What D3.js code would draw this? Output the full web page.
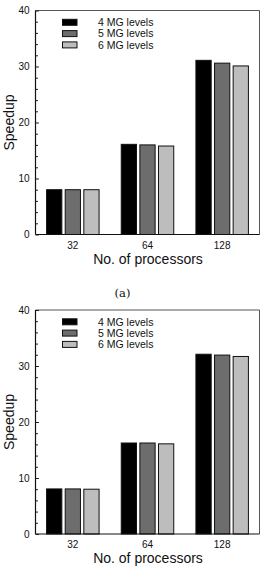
<!DOCTYPE html>
<html>
<head>
<meta charset="utf-8">
<script src="https://d3js.org/d3.v7.min.js"></script>
<style>
  body { margin: 0; background: #fff; }
  text { font-family: "Liberation Sans", Arial, sans-serif; fill: #111; }
  .tick-lbl { font-size: 10px; }
  .leg-lbl { font-size: 10.5px; }
  .ax-title { font-size: 14px; }
  .caption { font-family: "DejaVu Serif", "Liberation Serif", serif; font-size: 11.5px; }
</style>
</head>
<body>
<div id="chart"></div>
<script>
"use strict"

// dados
var procs = ["32", "64", "128"];
var niveis = ["4 MG levels", "5 MG levels", "6 MG levels"];
var cores = ["#000000", "#6d6d6d", "#bdbdbd"];

// painel (a)
var speedupA_4 = [8.0, 16.1, 31.1];
var speedupA_5 = [8.0, 16.0, 30.6];
var speedupA_6 = [8.0, 15.8, 30.1];

// painel (b)
var speedupB_4 = [8.05, 16.25, 32.1];
var speedupB_5 = [8.05, 16.25, 31.95];
var speedupB_6 = [8.0, 16.1, 31.7];

var yTicks = [0, 10, 20, 30, 40];

var svg = d3.select("#chart").append("svg")
  .attr("width", 264).attr("height", 580);

var margin = {left: 35.5, right: 4.5, top: 10.5},
    larguraVis = 264 - margin.left - margin.right,
    alturaVis = 224;

function desenhaPainel(offsetY, series) {
  var g = svg.append("g").attr("transform", "translate(0," + offsetY + ")");

  var x = d3.scaleBand().domain(procs).range([margin.left, margin.left + larguraVis]);
  var xIn = d3.scaleBand().domain(niveis).range([0, 52.5]).paddingInner(0.18);
  var y = d3.scaleLinear().domain([0, 40]).range([margin.top + alturaVis, margin.top]);

  // moldura cinza (topo e direita)
  g.append("path")
    .attr("d", "M" + margin.left + "," + y(40) + "H" + (margin.left + larguraVis) + "V" + y(0))
    .attr("fill", "none").attr("stroke", "#555").attr("stroke-width", 1);

  // barras
  niveis.forEach(function(n, k) {
    g.selectAll(null)
      .data(series[k])
      .enter()
      .append("rect")
      .attr("x", (d, i) => x(procs[i]) + x.bandwidth() / 2 - 26.25 + xIn(n))
      .attr("y", d => y(d))
      .attr("width", xIn.bandwidth())
      .attr("height", d => y(0) - y(d))
      .attr("fill", cores[k])
      .attr("stroke", "#111")
      .attr("stroke-width", 1);
  });

  // eixo y com ticks para dentro
  var eixoY = g.append("g").attr("transform", "translate(" + margin.left + ",0)");
  eixoY.call(d3.axisRight(y).tickValues(d3.range(0, 41, 2)).tickSize(2).tickFormat(""));
  eixoY.selectAll(".tick line")
    .attr("x2", d => d % 10 === 0 ? 3.5 : 2.5)
    .attr("stroke", "#222");
  eixoY.select(".domain").remove();
  eixoY.append("line").attr("y1", y(0)).attr("y2", y(40)).attr("stroke", "#111").attr("stroke-width", 1.2);

  g.selectAll(null)
    .data(yTicks)
    .enter()
    .append("text")
    .attr("class", "tick-lbl")
    .attr("x", 29.5)
    .attr("y", d => y(d) + 3.5)
    .attr("text-anchor", "end")
    .text(d => d);

  // eixo x
  g.append("line")
    .attr("x1", margin.left).attr("x2", margin.left + larguraVis)
    .attr("y1", y(0)).attr("y2", y(0))
    .attr("stroke", "#111").attr("stroke-width", 1.2);

  g.selectAll(null)
    .data(procs)
    .enter()
    .append("text")
    .attr("class", "tick-lbl")
    .attr("x", d => x(d) + x.bandwidth() / 2)
    .attr("y", y(0) + 14)
    .attr("text-anchor", "middle")
    .text(d => d);

  g.append("text")
    .attr("class", "ax-title")
    .attr("x", 148).attr("y", y(0) + 29)
    .attr("text-anchor", "middle")
    .text("No. of processors");

  g.append("text")
    .attr("class", "ax-title")
    .attr("transform", "translate(14,122.5) rotate(-90)")
    .attr("text-anchor", "middle")
    .text("Speedup");

  // legenda
  niveis.forEach(function(n, k) {
    var cy = 22.3 + k * 11.3;
    g.append("rect")
      .attr("x", 62.5).attr("y", cy - 3).attr("width", 14.5).attr("height", 6)
      .attr("fill", cores[k]).attr("stroke", "#111").attr("stroke-width", 1);
    g.append("text")
      .attr("class", "leg-lbl")
      .attr("x", 98).attr("y", cy + 3.8)
      .text(n);
  });
}

desenhaPainel(0, [speedupA_4, speedupA_5, speedupA_6]);
desenhaPainel(299.5, [speedupB_4, speedupB_5, speedupB_6]);

svg.append("text")
  .attr("class", "caption")
  .attr("x", 122.5).attr("y", 297)
  .attr("text-anchor", "middle")
  .text("(a)");
</script>
</body>
</html>
